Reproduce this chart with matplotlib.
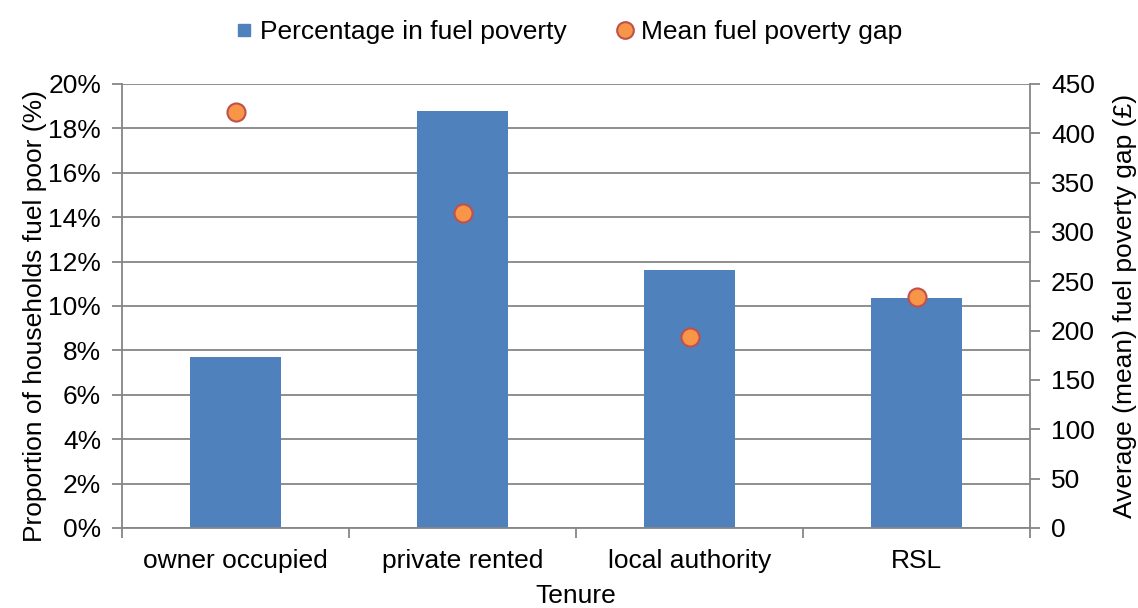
import numpy as np
import matplotlib.pyplot as plt
from matplotlib.lines import Line2D
from matplotlib.ticker import FuncFormatter, MultipleLocator

plt.rcParams['font.family'] = ['Liberation Sans', 'DejaVu Sans']

# data
tenure = ['owner occupied', 'private rented', 'local authority', 'RSL']
pct_fuel_poor = [7.7, 18.8, 11.6, 10.35]
mean_gap = [422, 319, 194, 234]

grid_col = '#868686'
bar_col = '#4F81BD'
dot_fill = '#F79646'
dot_edge = '#C0504D'
fs = 19

fig = plt.figure(figsize=(11.38, 6.08), dpi=100)
ax = fig.add_axes([0.1072, 0.1316, 0.798, 0.7303])
ax2 = ax.twinx()

x = np.arange(len(tenure))
ax.bar(x, pct_fuel_poor, width=0.4, color=bar_col, zorder=2)
ax2.plot(x, mean_gap, linestyle='none', marker='o', markersize=13,
         markerfacecolor=dot_fill, markeredgecolor=dot_edge,
         markeredgewidth=1.5, zorder=3)

ax.set_xlim(-0.5, 3.5)
ax.set_ylim(0, 20)
ax2.set_ylim(0, 450)
ax.yaxis.set_major_locator(MultipleLocator(2))
ax.yaxis.set_major_formatter(FuncFormatter(lambda v, p: f'{v:.0f}%'))
ax2.yaxis.set_major_locator(MultipleLocator(50))

ax.grid(axis='y', color=grid_col, linewidth=1.3, zorder=0)
ax.set_axisbelow(True)

# category boundaries get the tick marks, labels sit at the centres
ax.set_xticks(np.arange(-0.5, 4, 1))
ax.set_xticklabels([])
ax.set_xticks(x, minor=True)
ax.set_xticklabels(tenure, minor=True)
ax.tick_params(axis='x', which='minor', length=0, pad=15, labelsize=fs)
ax.tick_params(axis='x', which='major', length=7, color=grid_col, width=1.3)
ax.tick_params(axis='y', length=7, color=grid_col, width=1.3, labelsize=fs, pad=8)
ax2.tick_params(axis='y', length=7, color=grid_col, width=1.3, labelsize=fs, pad=8)

for a in (ax, ax2):
    for s in a.spines.values():
        s.set_visible(False)
ax.spines['left'].set_visible(True)
ax.spines['bottom'].set_visible(True)
ax2.spines['right'].set_visible(True)
for s in (ax.spines['left'], ax.spines['bottom'], ax2.spines['right']):
    s.set_color(grid_col)
    s.set_linewidth(1.3)

ax.set_xlabel('Tenure', fontsize=fs, labelpad=8)
ax.set_ylabel('Proportion of households fuel poor (%)', fontsize=fs, labelpad=1, y=0.478)
ax2.set_ylabel('Average (mean) fuel poverty gap (£)', fontsize=fs, labelpad=13)

handles = [
    Line2D([], [], linestyle='none', marker='s', markersize=9,
           markerfacecolor=bar_col, markeredgecolor=bar_col),
    Line2D([], [], linestyle='none', marker='o', markersize=12,
           markerfacecolor=dot_fill, markeredgecolor=dot_edge, markeredgewidth=1.5),
]
fig.legend(handles, ['Percentage in fuel poverty', 'Mean fuel poverty gap'],
           loc='center', bbox_to_anchor=(0.5, 0.947), ncol=2, frameon=False,
           fontsize=fs, handlelength=0.6, handletextpad=0.3, columnspacing=1.9)

fig.savefig('out.png', dpi=100)
